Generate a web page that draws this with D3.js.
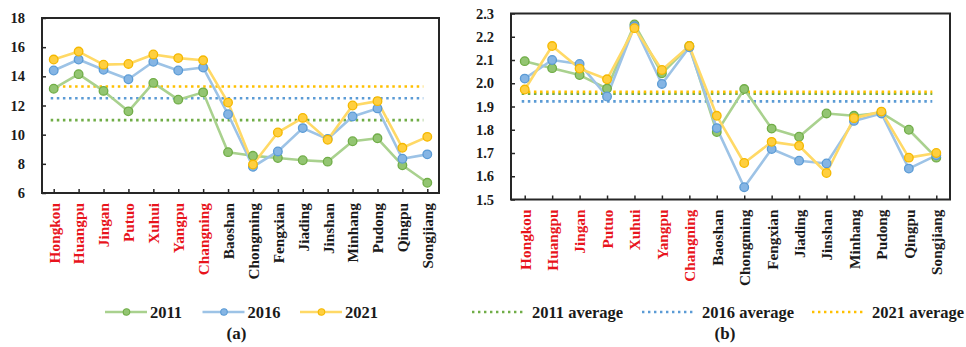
<!DOCTYPE html>
<html>
<head>
<meta charset="utf-8">
<script src="https://cdn.jsdelivr.net/npm/d3@7"></script>
<style>
  html, body { margin: 0; padding: 0; background: #fff; }
  svg { display: block; }
  text { font-family: "Liberation Serif", "Times New Roman", serif; font-weight: bold; }
</style>
</head>
<body>
<svg id="chart" width="966" height="347"></svg>
<script>
// Shanghai districts; the first seven are central-city districts (drawn in red)
const districts = ["Hongkou", "Huangpu", "Jingan", "Putuo", "Xuhui", "Yangpu", "Changning",
  "Baoshan", "Chongming", "Fengxian", "Jiading", "Jinshan", "Minhang", "Pudong", "Qingpu", "Songjiang"];
const centralCount = 7;
const years = ["2011", "2016", "2021"];

// Panel (a) values
const a2011 = [13.15, 14.15, 13.0, 11.6, 13.55, 12.4, 12.9, 8.8, 8.55, 8.4, 8.25, 8.15, 9.55, 9.75, 7.9, 6.7];
const a2016 = [14.4, 15.15, 14.45, 13.8, 15.0, 14.4, 14.6, 11.4, 7.8, 8.85, 10.45, 9.7, 11.25, 11.8, 8.35, 8.65];
const a2021 = [15.15, 15.7, 14.8, 14.85, 15.5, 15.25, 15.1, 12.2, 7.95, 10.15, 11.15, 9.65, 12.0, 12.3, 9.1, 9.85];
const aAverages = [11.0, 12.5, 13.3];
const aTicks = [6, 8, 10, 12, 14, 16, 18];

// Panel (b) values
const b2011 = [2.095, 2.065, 2.035, 1.977, 2.253, 2.043, 2.16, 1.79, 1.975, 1.805, 1.77, 1.87, 1.86, 1.873, 1.80, 1.68];
const b2016 = [2.02, 2.10, 2.083, 1.943, 2.245, 1.997, 2.155, 1.807, 1.553, 1.717, 1.667, 1.655, 1.838, 1.87, 1.633, 1.69];
const b2021 = [1.973, 2.16, 2.063, 2.017, 2.237, 2.057, 2.16, 1.86, 1.657, 1.748, 1.731, 1.614, 1.85, 1.878, 1.68, 1.70];
const bAverages = [1.955, 1.922, 1.963];
const bTicks = [1.5, 1.6, 1.7, 1.8, 1.9, 2.0, 2.1, 2.2, 2.3];

const lineColors = ["#a9d18e", "#9dc3e6", "#ffd966"];
const markerFill = ["#93c572", "#85b5e4", "#ffcf3f"];
const markerStroke = ["#70ad47", "#5b9bd5", "#f5b800"];
const avgColors = ["#70ad47", "#5b9bd5", "#ffc000"];
const red = "#e8141c";

const svg = d3.select("#chart");

function panel(opts) {
  const { left, right, top, bottom, domain, ticks, series, averages, fmt, padding } = opts;
  const x = d3.scalePoint().domain(districts).range([left, right]).padding(padding);
  const y = d3.scaleLinear().domain(domain).range([bottom, top]);
  const g = svg.append("g");

  // average reference lines (dotted)
  averages.forEach((v, i) => {
    g.append("line")
      .attr("x1", x(districts[0]) - 3).attr("x2", x(districts[districts.length - 1]) - 4)
      .attr("y1", y(v)).attr("y2", y(v))
      .attr("stroke", avgColors[i]).attr("stroke-width", 2.6)
      .attr("stroke-dasharray", "2.5 3.6");
  });

  // series lines and markers
  const line = d3.line().x((d, i) => x(districts[i])).y(d => y(d));
  series.forEach((vals, s) => {
    g.append("path").datum(vals)
      .attr("d", line).attr("fill", "none")
      .attr("stroke", lineColors[s]).attr("stroke-width", 2.6)
      .attr("stroke-linejoin", "round");
  });
  series.forEach((vals, s) => {
    g.selectAll(null).data(vals).enter().append("circle")
      .attr("cx", (d, i) => x(districts[i])).attr("cy", d => y(d))
      .attr("r", 4.3)
      .attr("fill", markerFill[s]).attr("stroke", markerStroke[s]).attr("stroke-width", 1.3);
  });

  // frame
  g.append("rect").attr("x", left).attr("y", top)
    .attr("width", right - left).attr("height", bottom - top)
    .attr("fill", "none").attr("stroke", "#262626").attr("stroke-width", 2);

  // y axis (ticks point inwards)
  const yAxis = d3.axisLeft(y).tickValues(ticks).tickSize(-4).tickPadding(17).tickFormat(fmt);
  const ya = g.append("g").attr("transform", `translate(${left},0)`).call(yAxis);
  ya.select(".domain").remove();
  ya.selectAll(".tick line").attr("stroke", "#262626").attr("stroke-width", 1.5);
  ya.selectAll(".tick text").attr("font-size", 14.5).attr("fill", "#1a1a1a")
    .attr("font-family", "'Liberation Serif', 'Times New Roman', serif").attr("font-weight", "bold");

  // x axis (ticks point inwards, labels rotated)
  const xAxis = d3.axisBottom(x).tickSize(-4).tickFormat("");
  const xa = g.append("g").attr("transform", `translate(0,${bottom})`).call(xAxis);
  xa.select(".domain").remove();
  xa.selectAll(".tick line").attr("stroke", "#262626").attr("stroke-width", 1.5);
  xa.selectAll(".tick").append("text")
    .attr("transform", "translate(0,10) rotate(-90)")
    .attr("text-anchor", "end").attr("dy", "0.35em")
    .attr("font-size", 15.3)
    .attr("font-family", "'Liberation Serif', 'Times New Roman', serif").attr("font-weight", "bold")
    .attr("fill", (d, i) => i < centralCount ? red : "#1a1a1a")
    .text(d => d);
}

panel({ left: 42, right: 439, top: 18, bottom: 193, domain: [6, 18], ticks: aTicks,
  series: [a2011, a2016, a2021], averages: aAverages, fmt: d3.format("d"), padding: 0.47 });
panel({ left: 511, right: 950, top: 13.5, bottom: 199.5, domain: [1.5, 2.3], ticks: bTicks,
  series: [b2011, b2016, b2021], averages: bAverages, fmt: d3.format(".1f"), padding: 0.5 });

// legend (a): series lines with markers
const legA = svg.append("g").attr("transform", "translate(105,312)");
years.forEach((yr, i) => {
  const gx = i * 97.5;
  const it = legA.append("g").attr("transform", `translate(${gx},0)`);
  it.append("line").attr("x1", 0).attr("x2", 42).attr("y1", 0).attr("y2", 0)
    .attr("stroke", lineColors[i]).attr("stroke-width", 2.4);
  it.append("circle").attr("cx", 21.5).attr("cy", 0).attr("r", 3.3)
    .attr("fill", markerFill[i]).attr("stroke", markerStroke[i]).attr("stroke-width", 1.1);
  it.append("text").attr("x", 45).attr("y", 0).attr("dy", "0.35em")
    .attr("font-size", 16.5).attr("fill", "#1a1a1a").text(yr);
});
svg.append("text").attr("x", 236.5).attr("y", 333).attr("dy", "0.35em")
  .attr("text-anchor", "middle").attr("font-size", 17).attr("fill", "#1a1a1a").text("(a)");

// legend (b): dotted average lines
const legB = svg.append("g").attr("transform", "translate(472,312)");
years.forEach((yr, i) => {
  const it = legB.append("g").attr("transform", `translate(${i * 170},0)`);
  it.append("line").attr("x1", 0).attr("x2", 53).attr("y1", 0).attr("y2", 0)
    .attr("stroke", avgColors[i]).attr("stroke-width", 2.4).attr("stroke-dasharray", "2.4 3.6");
  it.append("text").attr("x", 60).attr("y", 0).attr("dy", "0.35em")
    .attr("font-size", 16.5).attr("fill", "#1a1a1a").text(yr + " average");
});
svg.append("text").attr("x", 725).attr("y", 333).attr("dy", "0.35em")
  .attr("text-anchor", "middle").attr("font-size", 17).attr("fill", "#1a1a1a").text("(b)");
</script>
</body>
</html>
